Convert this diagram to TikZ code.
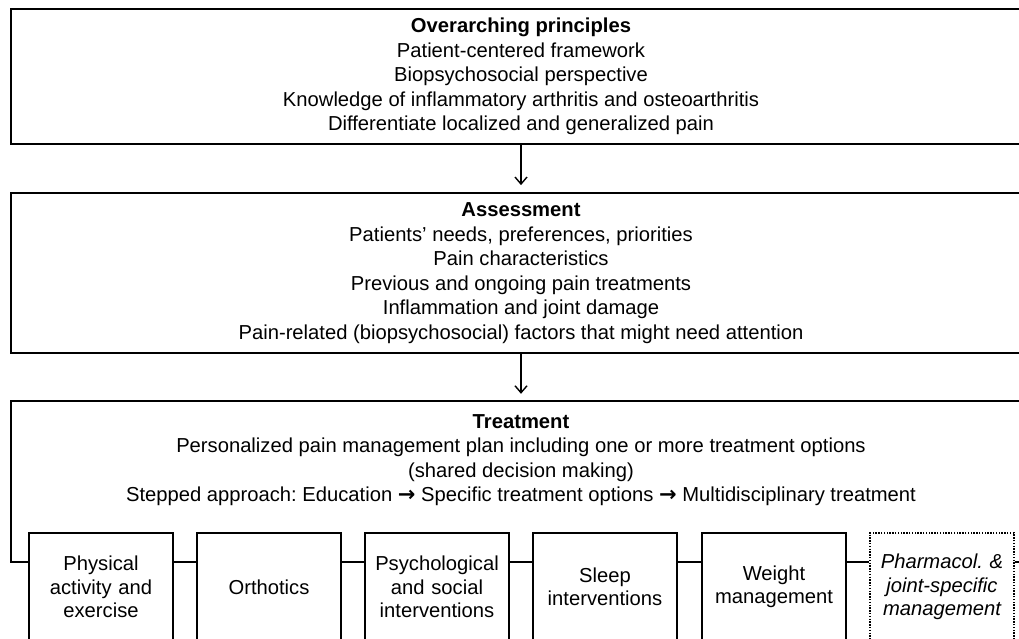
\documentclass[tikz,border=0pt]{standalone}
\usepackage{fontspec}
\setmainfont{Liberation Sans}
\newfontfamily\arrowfont{DejaVu Sans}
\newcommand{\stepArrow}{{\arrowfont\bfseries\fontsize{21}{24.5}\selectfont →}}
\frenchspacing
\usetikzlibrary{arrows.meta}
\begin{document}
\begin{tikzpicture}[x=1pt,y=-1pt,
  bigbox/.style={draw, line width=1.8pt, minimum width=1020pt, align=center, inner sep=0pt,
    font=\fontsize{20.2}{24.5}\selectfont},
  plain/.style={align=center, inner sep=0pt, font=\fontsize{20.2}{24.5}\selectfont},
  frame/.style={minimum width=1020pt, inner sep=0pt},
  opt/.style={draw, line width=1.8pt, minimum width=144pt, minimum height=108pt, text width=140pt,
    align=center, inner sep=0pt, font=\fontsize{20.2}{23.5}\selectfont},
  optdot/.style={opt, line width=1.3pt, dash pattern=on 1.4pt off 1.4pt},
  link/.style={line width=1.8pt},
  flow/.style={line width=1.4pt, shorten >=7pt, -{Straight Barb[length=7pt,width=12pt,line width=1.4pt]}}]
\useasboundingbox (0,0) rectangle (1019,638);
\clip (0,0) rectangle (1019,638);

\node[bigbox, minimum height=135pt] (prin) at (521,76.5)
  {\textbf{Overarching principles}\\
   Patient-centered framework\\
   Biopsychosocial perspective\\
   Knowledge of inflammatory arthritis and osteoarthritis\\
   Differentiate localized and generalized pain};

\node[bigbox, minimum height=160pt] (assess) at (521,273)
  {\textbf{Assessment}\\
   Patients’ needs, preferences, priorities\\
   Pain characteristics\\
   Previous and ongoing pain treatments\\
   Inflammation and joint damage\\
   Pain-related (biopsychosocial) factors that might need attention};

\node[frame, minimum height=260pt] (treat) at (521,531) {};
\node[plain] (treattext) at (521,460)
  {\textbf{Treatment}\\
   Personalized pain management plan including one or more treatment options\\
   (shared decision making)\\
   Stepped approach: Education \stepArrow{} Specific treatment options \stepArrow{} Multidisciplinary treatment};

\coordinate (rail) at (0,562);

\node[opt] (b1) at (101,587) {Physical\\activity and\\exercise};
\node[opt] (b2) at (269,587) {Orthotics};
\node[opt] (b3) at (437,587) {Psychological\\and social\\interventions};
\node[opt] (b4) at (605,587) {Sleep\\interventions};
\node[opt] (b5) at (774,587) {Weight\\management};
\node[optdot] (b6) at (942,587) {\itshape Pharmacol. \&\\\itshape joint-specific\\\itshape management};

\draw[flow] (prin.south) -- (assess.north);
\draw[flow] (assess.south) -- (treat.north);

\draw[link] (treat.north east) -- (treat.north west) -- (treat.west |- rail) -- (b1.west |- rail);
\draw[link] (b1.east |- rail) -- (b2.west |- rail);
\draw[link] (b2.east |- rail) -- (b3.west |- rail);
\draw[link] (b3.east |- rail) -- (b4.west |- rail);
\draw[link] (b4.east |- rail) -- (b5.west |- rail);
\draw[link] (b5.east |- rail) -- (b6.west |- rail);
\draw[link] (b6.east |- rail) -- (treat.east |- rail);
\end{tikzpicture}
\end{document}
